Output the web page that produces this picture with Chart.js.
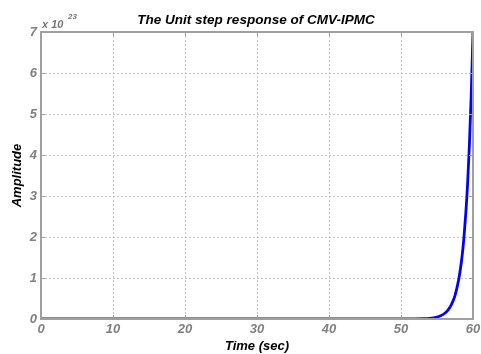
<!DOCTYPE html>
<html>
<head>
<meta charset="utf-8">
<script src="https://cdn.jsdelivr.net/npm/chart.js@4.4.1/dist/chart.umd.min.js"></script>
<style>
  html, body { margin: 0; padding: 0; background: #fff; }
  #wrap { width: 481px; height: 354px; }
</style>
</head>
<body>
<div id="wrap"><canvas id="step"></canvas></div>
<script>
// time samples (sec) and amplitude (in units of 1e23)
const timeSec = [0, 10, 20, 30, 40, 50, 52, 53, 54, 55, 55.5, 56, 56.5, 57, 57.5, 58, 58.25, 58.5, 58.75, 59, 59.25, 59.5, 59.75, 60]
const amplitude = [0, 0, 0, 0, 0, 0.0003, 0.0023, 0.0064, 0.017, 0.047, 0.078, 0.128, 0.21, 0.35, 0.57, 0.95, 1.22, 1.56, 2.0, 2.58, 3.3, 4.25, 5.45, 7.0]
const xTicks = [0, 10, 20, 30, 40, 50, 60]
const yTicks = [0, 1, 2, 3, 4, 5, 6, 7]
const titleText = "The Unit step response of CMV-IPMC"
const exponentText = "23"

const points = timeSec.map((t, i) => ({ x: t, y: amplitude[i] }))

const tickFont = { family: "Arial, 'Liberation Sans'", size: 13, weight: "bold", style: "italic" }
const labelFont = { family: "Arial, 'Liberation Sans'", size: 13, weight: "bold", style: "italic" }

// frame, inner tick marks, title and the exponent note
const decorations = {
    id: "decorations",
    afterDraw(chart) {
        const ctx = chart.ctx
        const a = chart.chartArea
        const xs = chart.scales.x
        const ys = chart.scales.y
        ctx.save()
        ctx.strokeStyle = "#a0a0a0"
        ctx.lineWidth = 2
        ctx.strokeRect(a.left, a.top, a.right - a.left, a.bottom - a.top)
        ctx.lineWidth = 1
        xTicks.forEach(v => {
            const px = Math.round(xs.getPixelForValue(v)) + 0.5
            ctx.beginPath()
            ctx.moveTo(px, a.top); ctx.lineTo(px, a.top + 4)
            ctx.moveTo(px, a.bottom); ctx.lineTo(px, a.bottom - 4)
            ctx.stroke()
        })
        yTicks.forEach(v => {
            const py = Math.round(ys.getPixelForValue(v)) + 0.5
            ctx.beginPath()
            ctx.moveTo(a.left, py); ctx.lineTo(a.left + 4, py)
            ctx.moveTo(a.right, py); ctx.lineTo(a.right - 4, py)
            ctx.stroke()
        })
        ctx.fillStyle = "#000"
        ctx.font = "italic bold 13.5px Arial, 'Liberation Sans'"
        ctx.textAlign = "center"
        ctx.textBaseline = "middle"
        ctx.fillText(titleText, (a.left + a.right) / 2 - 1, 20)
        ctx.fillStyle = "#777"
        ctx.textAlign = "left"
        ctx.font = "italic bold 11px Arial, 'Liberation Sans'"
        ctx.fillText("x 10", a.left + 1, 25)
        ctx.font = "italic bold 8px Arial, 'Liberation Sans'"
        ctx.fillText(exponentText, a.left + 27, 17)
        ctx.restore()
    }
}

new Chart(document.getElementById("step"), {
    type: "line",
    data: {
        datasets: [{
            data: points,
            borderColor: "#0000ff",
            borderWidth: 2.8,
            pointRadius: 0,
            cubicInterpolationMode: "monotone",
            fill: false
        }]
    },
    options: {
        responsive: true,
        maintainAspectRatio: false,
        animation: false,
        layout: { padding: { top: 32, right: 8, left: 0, bottom: 0 } },
        plugins: { legend: { display: false }, tooltip: { enabled: false }, title: { display: false } },
        scales: {
            x: {
                type: "linear",
                min: 0,
                max: 60,
                afterBuildTicks: s => { s.ticks = xTicks.map(v => ({ value: v })) },
                afterFit: s => { s.height = 35; s.paddingLeft = 0; s.paddingRight = 0 },
                grid: { color: "#c4c4c4", drawTicks: false, tickLength: 0 },
                border: { display: false, dash: [2, 2] },
                ticks: { color: "#808080", font: tickFont, padding: 3, maxRotation: 0 },
                title: { display: true, text: "Time (sec)", color: "#000", font: labelFont, padding: { top: 0, bottom: 0 } }
            },
            y: {
                min: 0,
                max: 7,
                afterBuildTicks: s => { s.ticks = yTicks.map(v => ({ value: v })) },
                afterFit: s => { s.width = 41 },
                grid: { color: "#c4c4c4", drawTicks: false, tickLength: 0 },
                border: { display: false, dash: [2, 2] },
                ticks: { color: "#808080", font: tickFont, padding: 4 },
                title: { display: true, text: "Amplitude", color: "#000", font: labelFont, padding: { top: 10, bottom: 0 } }
            }
        }
    },
    plugins: [decorations]
})
</script>
</body>
</html>
